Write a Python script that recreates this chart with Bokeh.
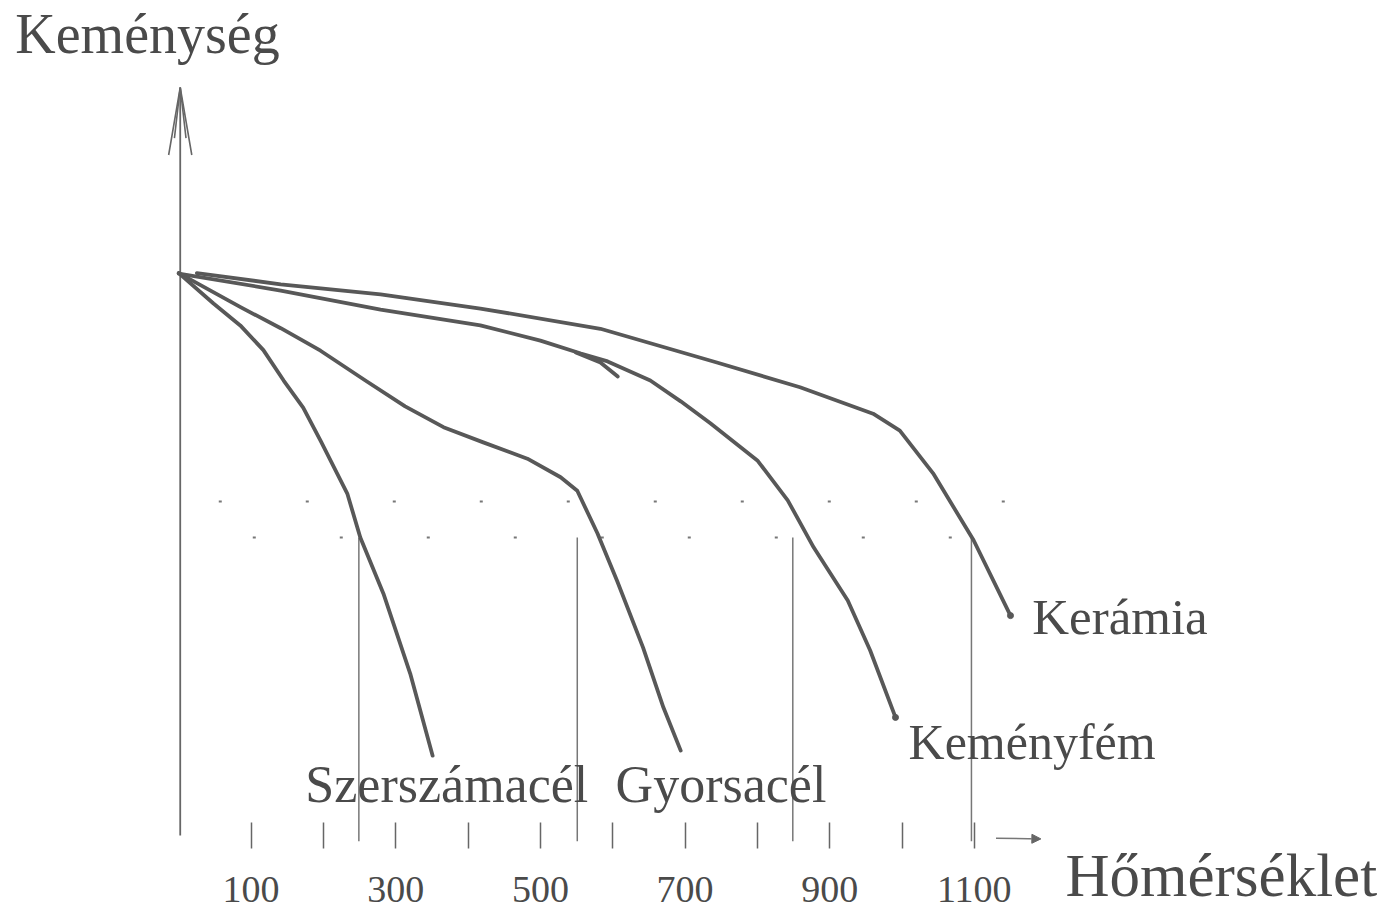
from bokeh.plotting import figure
from bokeh.models import Range1d, LinearAxis, FixedTicker, Label, Arrow, NormalHead
from bokeh.embed import file_html
from bokeh.resources import INLINE

# ---- data (temperature °C, relative hardness) ----
szersz_t = [0, 48, 85, 117, 145, 172, 196, 233, 251, 283, 320, 351]
szersz_h = [100, 94.6, 90.7, 86.3, 80.9, 76.1, 70.2, 60.8, 53.0, 43.0, 28.8, 14.2]

gyors_t = [0, 86, 141, 196, 258, 313, 366, 421, 482, 528, 551, 579, 606, 642, 670, 694]
gyors_h = [100, 93.9, 90.2, 86.2, 80.9, 76.3, 72.6, 69.9, 67.0, 63.7, 61.3, 53.7, 45.3, 33.4, 22.8, 15.1]

kemeny_t = [0, 141, 279, 417, 500, 556, 593, 652, 694, 735, 800, 842, 878, 925, 956, 991]
kemeny_h = [99.9, 96.9, 93.5, 90.7, 88.0, 85.7, 84.3, 80.9, 77.2, 73.3, 66.7, 59.6, 51.2, 41.8, 32.9, 21.0]

kemeny_stub_t = [549, 583, 607]
kemeny_stub_h = [85.9, 84.1, 81.6]

keram_t = [25, 141, 279, 417, 583, 744, 859, 960, 997, 1043, 1099, 1150]
keram_h = [100, 98.0, 96.2, 93.7, 90.1, 84.1, 79.7, 75.0, 72.0, 64.4, 52.5, 39.1]

drop_t = [249, 551, 849, 1096]      # vertical reading lines
level_low = 53.0
level_high = 59.4
level_low_end = 1100
level_high_end = 1150

major_ticks = [100, 300, 500, 700, 900, 1100]
minor_ticks = [200, 400, 600, 800, 1000]

axis_top = 133
INK = "#585858"
TXT = "#4a4a4a"
FONT = "Liberation Serif"

p = figure(width=1386, height=911, output_backend="svg", toolbar_location=None,
           x_range=Range1d(-246.5, 1669.9), y_range=Range1d(-13.51, 148.47),
           x_axis_location=None, y_axis_location=None,
           min_border_left=0, min_border_right=0, min_border_top=0, min_border_bottom=0)
p.grid.visible = False
p.outline_line_color = None
p.background_fill_color = "white"
p.border_fill_color = "white"

# x axis: ticks only, no axis line, drawn at hardness 0
xa = LinearAxis(ticker=FixedTicker(ticks=major_ticks, minor_ticks=minor_ticks), fixed_location=0)
xa.axis_line_color = None
xa.major_tick_in = 13
xa.major_tick_out = 13
xa.minor_tick_in = 13
xa.minor_tick_out = 13
xa.major_tick_line_color = "#666666"
xa.minor_tick_line_color = "#666666"
xa.major_tick_line_width = 1.5
xa.minor_tick_line_width = 1.5
xa.major_label_standoff = 28
xa.major_label_text_font = FONT
xa.major_label_text_font_size = "38px"
xa.major_label_text_color = TXT
p.add_layout(xa, "below")

# y axis drawn as a line with an open arrow head
p.segment(x0=[2], y0=[0], x1=[2], y1=[axis_top], line_color="#666666", line_width=1.8)
p.multi_line(xs=[[-14, 2, 18], [-6, 2, 10]],
             ys=[[axis_top - 12, axis_top, axis_top - 12], [axis_top - 9, axis_top, axis_top - 9]],
             line_color="#666666", line_width=1.6)

# small arrow at the end of the temperature axis
p.add_layout(Arrow(end=NormalHead(size=9, fill_color="#666666", line_color="#666666"),
                   x_start=1130, y_start=-0.5, x_end=1192, y_end=-0.6,
                   line_color="#777777", line_width=1.5))

# dotted reference levels
p.line([0, level_high_end], [level_high, level_high], line_color="#777777", line_width=2,
       line_dash="3 84", line_dash_offset=47)
p.line([0, level_low_end], [level_low, level_low], line_color="#777777", line_width=2,
       line_dash="3 84", line_dash_offset=13)

# vertical reading lines
p.segment(x0=drop_t, y0=[level_low] * len(drop_t), x1=drop_t, y1=[-1.0] * len(drop_t),
          line_color="#777777", line_width=1.5)

# curves
for t, h in [(szersz_t, szersz_h), (gyors_t, gyors_h), (kemeny_t, kemeny_h),
             (kemeny_stub_t, kemeny_stub_h), (keram_t, keram_h)]:
    p.line(t, h, line_color=INK, line_width=3.8, line_cap="round", line_join="round")
p.scatter([kemeny_t[-1], keram_t[-1]], [kemeny_h[-1], keram_h[-1]], size=6,
          fill_color=INK, line_color=INK)

def lab(x, y, s, size):
    p.add_layout(Label(x=x, y=y, text=s, text_font=FONT, text_font_size=size,
                       text_color=TXT, text_baseline="alphabetic", text_align="left"))

lab(-226, 142.55, "Keménység", "56px")
lab(1226, -7.11, "Hőmérséklet", "61px")
lab(1180, 38.9, "Kerámia", "51px")
lab(1009, 16.7, "Keményfém", "50px")
lab(175, 9.07, "Szerszámacél", "52px")
lab(604, 9.07, "Gyorsacél", "52px")

open("out.html", "w").write(file_html(p, INLINE))
